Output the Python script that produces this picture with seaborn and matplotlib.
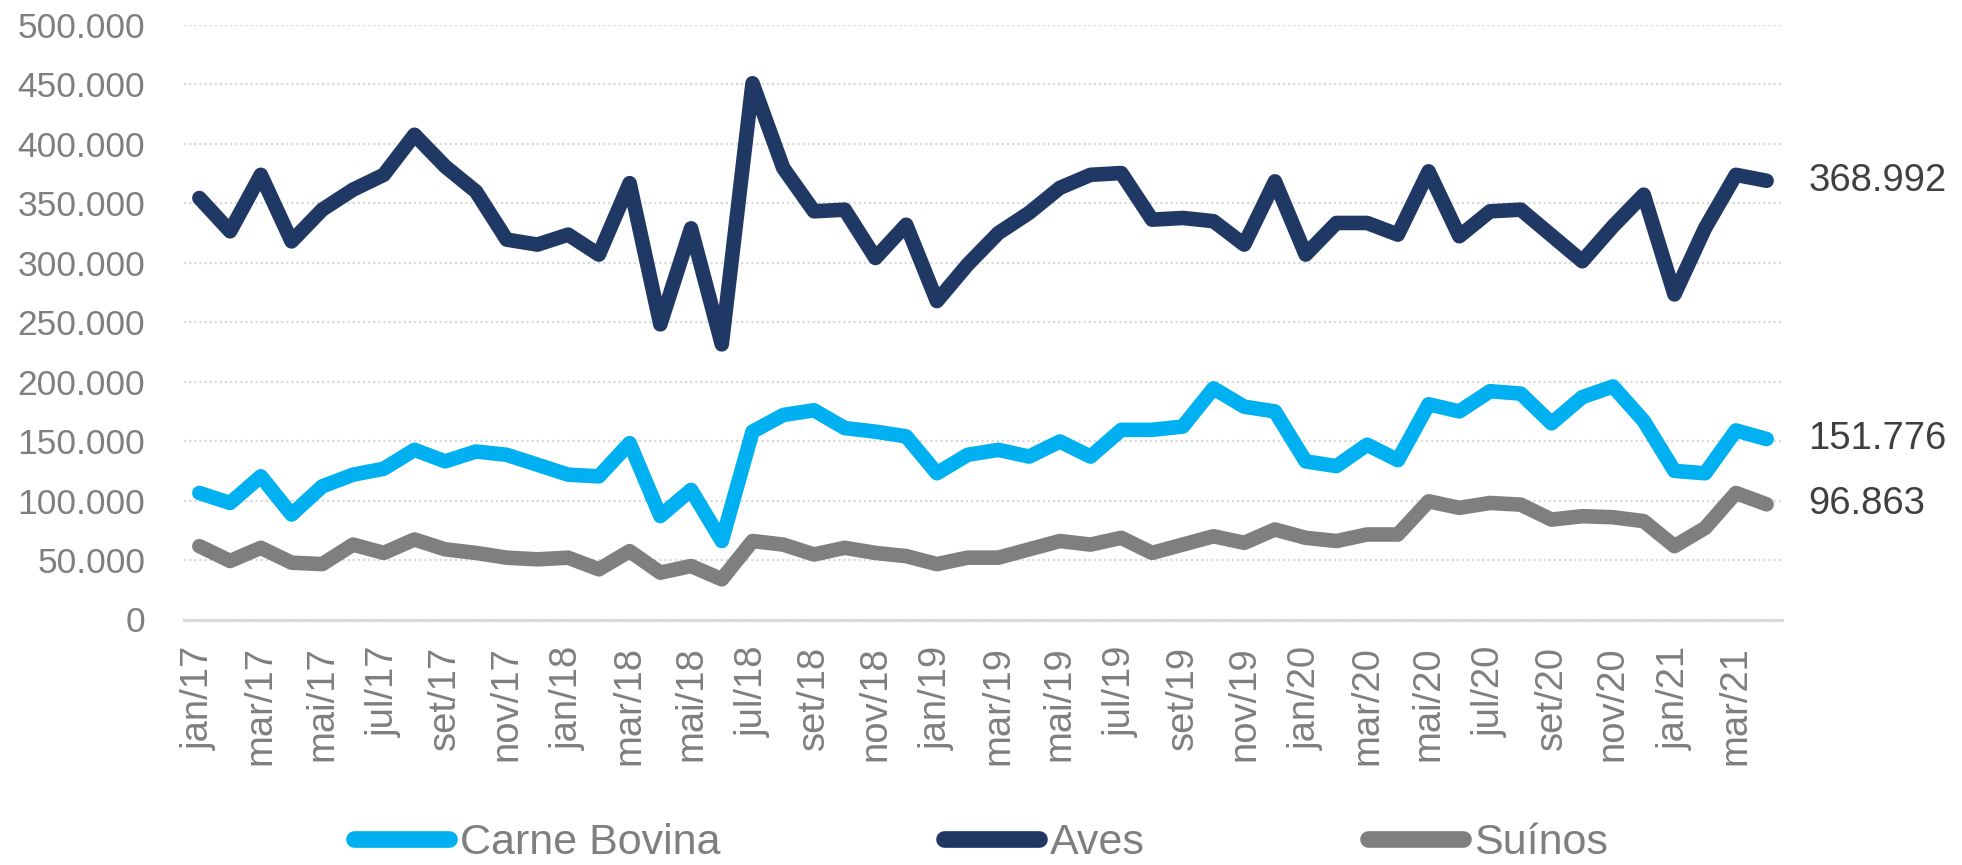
import numpy as np
import pandas as pd
import seaborn as sns
import matplotlib.pyplot as plt
from matplotlib.lines import Line2D
from matplotlib.ticker import FuncFormatter

# meses jan/17 .. abr/21
nomes_mes = ['jan', 'fev', 'mar', 'abr', 'mai', 'jun', 'jul', 'ago', 'set', 'out', 'nov', 'dez']
meses = [f"{nomes_mes[i % 12]}/{17 + i // 12}" for i in range(52)]

# valores em mil toneladas
carne_bovina = [106.4, 98, 120.4, 88.3, 112, 121.8, 126.8, 142.7, 133, 141.3, 138.5, 130.2, 121.8,
                120.4, 148.3, 87, 109, 66, 158, 172, 176, 161, 158, 154, 123, 138.5, 142.7, 137,
                149.7, 137, 159.5, 159.5, 162.3, 194.4, 179, 175, 133, 129, 147, 134, 181, 175,
                192, 190, 165, 187, 196, 167, 125, 123, 159, 151.776]
aves = [354.5, 326.5, 374, 318, 344.7, 361.5, 374, 407.7, 381, 360, 319.5, 315.3, 323.7, 306.9,
        367, 248.2, 329, 231.4, 451, 379.7, 343.3, 344.7, 304, 332, 267.8, 298.5, 325, 342, 363,
        374, 375.5, 336.3, 337.7, 335, 315.3, 368.5, 306.9, 333.5, 333.5, 323.7, 376.9, 322.3,
        343.3, 344.7, 323, 301.3, 330.7, 357.3, 273.4, 329.3, 374, 368.992]
suinos = [61.7, 49.2, 60.3, 47.8, 46.6, 63, 56, 67.3, 59, 56, 52, 50.6, 52, 42.2, 57.5, 39.4, 45,
          33.8, 66, 63, 54.7, 60.3, 56, 53.3, 46.6, 52, 52, 59, 66, 63, 68.7, 56, 63, 70, 64.5,
          75.7, 68.7, 66, 71.5, 71.5, 99.4, 93.9, 98, 96.6, 84, 86.9, 86, 82.7, 61.7, 77, 106.4,
          96.863]

series = ['Carne Bovina', 'Aves', 'Suínos']
cores = {'Carne Bovina': '#00B0F0', 'Aves': '#203864', 'Suínos': '#7F7F7F'}

df = pd.DataFrame({'idx': range(len(meses)), 'Carne Bovina': carne_bovina,
                   'Aves': aves, 'Suínos': suinos})
df = df.melt(id_vars='idx', var_name='serie', value_name='valor')
df['valor'] = df['valor'] * 1000

sns.set_style('white')
plt.rcParams['font.family'] = ['Liberation Sans', 'DejaVu Sans']

fig = plt.figure(figsize=(19.62, 8.65), dpi=100)
ax = fig.add_axes([184 / 1962, 1 - 619.5 / 865, 1598 / 1962, 594.5 / 865])

sns.lineplot(data=df, x='idx', y='valor', hue='serie', hue_order=series, palette=cores,
             linewidth=10.5, legend=False, ax=ax, solid_capstyle='round', solid_joinstyle='round')

ax.set_xlim(-0.5, 51.5)
ax.set_ylim(0, 500000)
ax.set_yticks(range(0, 500001, 50000))
ax.yaxis.set_major_formatter(FuncFormatter(lambda v, p: f"{int(v):,}".replace(',', '.')))
ax.set_xlabel('')
ax.set_ylabel('')

ax.set_xticks(range(0, 52, 2))
ax.set_xticklabels(meses[::2], rotation=90)
ax.set_xticks(np.arange(-0.5, 52, 2), minor=True)
ax.tick_params(axis='x', which='major', length=0, pad=19, labelsize=27.5, labelcolor='#7F7F7F')
ax.tick_params(axis='x', which='minor', length=9.5, width=2.2, color='#D9D9D9')
ax.tick_params(axis='y', length=0, pad=28, labelsize=25.5, labelcolor='#7F7F7F')

ax.yaxis.grid(True, color='#D9D9D9', linestyle=(0, (1, 1.3)), linewidth=1.6)
ax.set_axisbelow(True)
for lado in ['left', 'top', 'right']:
    ax.spines[lado].set_visible(False)
ax.spines['bottom'].set_color('#D9D9D9')
ax.spines['bottom'].set_linewidth(2.2)

# rótulos do último valor
for nome, vals in zip(series, [carne_bovina, aves, suinos]):
    ax.annotate(f"{vals[-1]:.3f}", xy=(len(meses) - 1, vals[-1] * 1000), xytext=(30, 0),
                textcoords='offset points', va='center', ha='left', fontsize=27.5,
                color='#404040', annotation_clip=False)

handles = [Line2D([0], [0], color=cores[s], lw=12, solid_capstyle='round') for s in series]
fig.legend(handles, series, loc='center', bbox_to_anchor=(0.5, 1 - 843 / 865), ncol=3,
           frameon=False, fontsize=31, labelcolor='#7F7F7F', handlelength=2.2,
           handletextpad=0.25, columnspacing=5.2)

fig.savefig('out.png', dpi=100)
